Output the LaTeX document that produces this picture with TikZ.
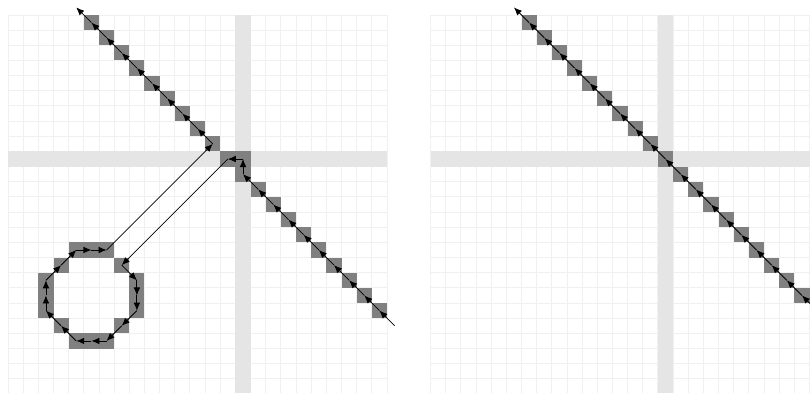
\documentclass[tikz,border=0pt]{standalone}
\usetikzlibrary{arrows.meta}
\tikzset{
  gridline/.style={draw=black!6, line width=0.9pt},
  band/.style={fill=black!10},
  hit/.style={fill=black!50},
  ray/.style={-{Latex[length=7.5pt,width=6.2pt]}, line width=0.75pt, draw=black},
}
\begin{document}
\begin{tikzpicture}[x=0.5cm,y=-0.5cm]
\useasboundingbox (-0.53,-0.99) rectangle (52.90,24.87);
\clip (-0.53,-0.99) rectangle (52.90,24.87);
\fill[white] (-0.53,-0.99) rectangle (52.90,24.87);
% two panels: grid and bands
\foreach \sx in {0,27.87}{
  \begin{scope}[shift={(\sx,0)}]
    \foreach \k in {0,...,25}{
      \draw[gridline] (\k,0) -- (\k,25);
      \draw[gridline] (0,\k) -- (25,\k);
    }
    \fill[band] (0,9) rectangle (25,10);
    \fill[band] (15,0) rectangle (16,25);
  \end{scope}
}
% left panel cells
\foreach \c in {5,...,24} \fill[hit] (\c,\c-5) rectangle ++(1,1);
\fill[hit] (15,9) rectangle ++(1,1);
\foreach \c/\r in {4/15,5/15,6/15,3/16,7/16,2/17,8/17,2/18,8/18,2/19,8/19,3/20,7/20,4/21,5/21,6/21}
  \fill[hit] (\c,\r) rectangle ++(1,1);
% right panel cells
\begin{scope}[shift={(27.87,0)}]
  \foreach \c in {6,...,24} \fill[hit] (\c,\c-6) rectangle ++(1,1);
\end{scope}
% left ray
\foreach \pt [count=\i from 0] in {{25.5,20.5},{24.5,19.5},{23.5,18.5},{22.5,17.5},{21.5,16.5},{20.5,15.5},{19.5,14.5},{18.5,13.5},{17.5,12.5},{16.5,11.5},{15.5,10.5},{15.5,9.5},{14.5,9.5},{7.5,16.5},{8.5,17.5},{8.5,18.5},{8.5,19.5},{7.5,20.5},{6.5,21.5},{5.5,21.5},{4.5,21.5},{3.5,20.5},{2.5,19.5},{2.5,18.5},{2.5,17.5},{3.5,16.5},{4.5,15.5},{5.5,15.5},{6.5,15.5},{13.5,8.5},{12.5,7.5},{11.5,6.5},{10.5,5.5},{9.5,4.5},{8.5,3.5},{7.5,2.5},{6.5,1.5},{5.5,0.5},{4.5,-0.5}}
  \coordinate (L\i) at (\pt);
\foreach \i [evaluate=\i as \j using int(\i-1)] in {1,...,38}
  \draw[ray] (L\j) -- (L\i);
% right ray
\foreach \i in {0,...,20}
  \coordinate (R\i) at ({27.87+25.5-\i},{19.5-\i});
\foreach \i [evaluate=\i as \j using int(\i-1)] in {1,...,20}
  \draw[ray] (R\j) -- (R\i);
\end{tikzpicture}
\end{document}
